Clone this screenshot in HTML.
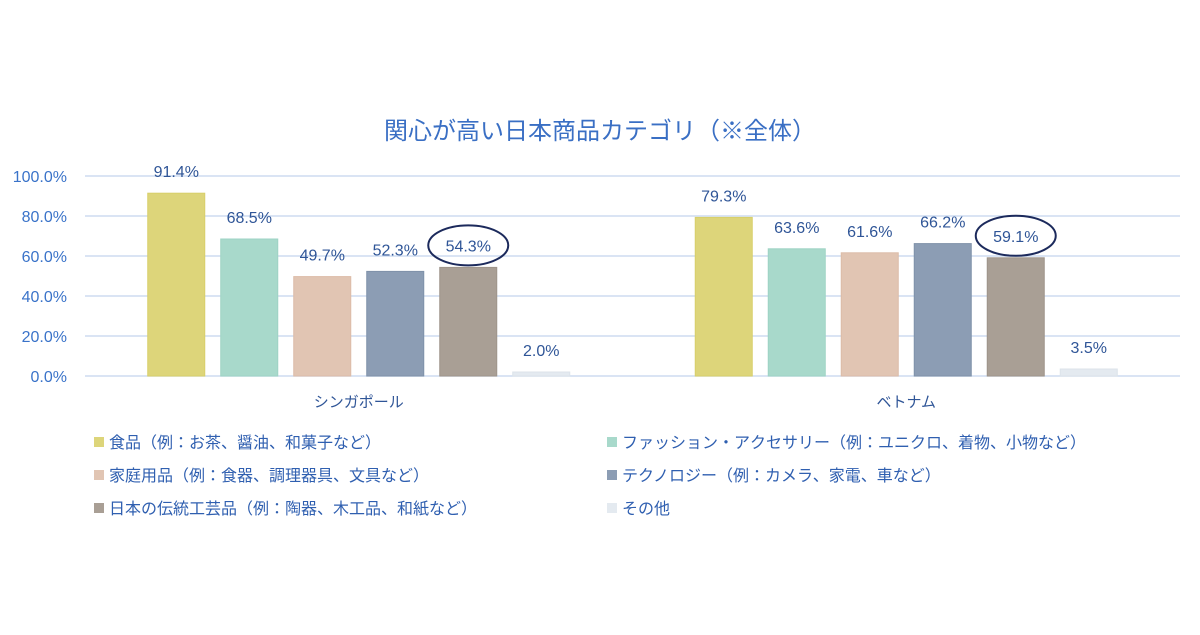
<!DOCTYPE html>
<html><head><meta charset="utf-8"><style>
body{margin:0;background:#fff;}
svg text{font-family:"Liberation Sans","Noto Sans CJK JP",sans-serif;}
</style></head><body>
<svg id="c" width="1200" height="630" xmlns="http://www.w3.org/2000/svg">
<rect width="1200" height="630" fill="#fff"/>
<text x="600" y="139" text-anchor="middle" font-size="24" fill="#3a6fc4">関心が高い日本商品カテゴリ（※全体）</text>
<g id="grid"></g><g id="bars"></g><g id="legend"></g>
</svg>
<script>
const categories=["シンガポール","ベトナム"];
const seriesNames=["食品（例：お茶、醤油、和菓子など）","ファッション・アクセサリー（例：ユニクロ、着物、小物など）","家庭用品（例：食器、調理器具、文具など）","テクノロジー（例：カメラ、家電、車など）","日本の伝統工芸品（例：陶器、木工品、和紙など）","その他"];
const singapore=[91.4,68.5,49.7,52.3,54.3,2.0];
const vietnam=[79.3,63.6,61.6,66.2,59.1,3.5];
const ticks=[0,20,40,60,80,100];
const highlighted=[4];
const colors=["#ddd57a","#a8d9cb","#e1c5b3","#8c9db4","#a99f95","#e4eaf0"];
const strokes=["#d8cf6a","#9ed3c4","#dcbca8","#7f91a9","#9e948a","#dce3ea"];
const NS="http://www.w3.org/2000/svg";
const L=85,R=1180,Y0=376,Y100=176;
const y=v=>Y0-(v/100)*(Y0-Y100);
const groupW=(R-L)/categories.length;
const barW=57,step=73;
const x=(g,i)=>L+groupW*g+groupW/2-step*2.5+step*i-barW/2;
function mk(t,a,p,txt){const e=document.createElementNS(NS,t);for(const k in a)e.setAttribute(k,a[k]);if(txt!==undefined)e.textContent=txt;p.appendChild(e);return e;}
const grid=document.getElementById('grid');
ticks.forEach(t=>{
  const l=mk('line',{x1:L,x2:R,y1:y(t),y2:y(t),stroke:'#cddcf0','stroke-width':1.5},grid);
  
  
  const tx=mk('text',{x:67,y:y(t)+6,'text-anchor':'end','font-size':16,fill:'#3a73c9'},grid,t.toFixed(1)+'%');
  
  
});
const bars=document.getElementById('bars');
[singapore,vietnam].forEach((vals,g)=>{
  const cl=mk('text',{x:L+groupW*g+groupW/2,y:407,'text-anchor':'middle','font-size':15,fill:'#2f5597'},bars,categories[g]);
  
  
  vals.forEach((v,i)=>{
    const r=mk('rect',{x:x(g,i),y:y(v),width:barW,height:Y0-y(v),fill:colors[i],stroke:strokes[i],'stroke-width':1},bars);
    
    
    const cx=x(g,i)+barW/2,cy=y(v)-22;
    const t=mk('text',{x:cx,y:cy+6,'text-anchor':'middle','font-size':16,fill:'#2f5597'},bars,v.toFixed(1)+'%');
    
    
    if(highlighted.includes(i)){
      const e=mk('ellipse',{cx:cx,cy:cy,rx:40,ry:20,fill:'none',stroke:'#1c2a5c','stroke-width':2},bars);
      
      
    }
  });
});
const lg=document.getElementById('legend');
seriesNames.forEach((n,i)=>{
  const col=i%2,row=Math.floor(i/2);
  const lx=col?607:94,ly=442+row*33;
  const s=mk('rect',{x:lx,y:ly-5,width:10,height:10,fill:colors[i]},lg);
  
  
  const t=mk('text',{x:lx+15,y:ly+6,'font-size':16,fill:'#2f5fb0'},lg,n);
  
  
});
</script>
</body></html>
